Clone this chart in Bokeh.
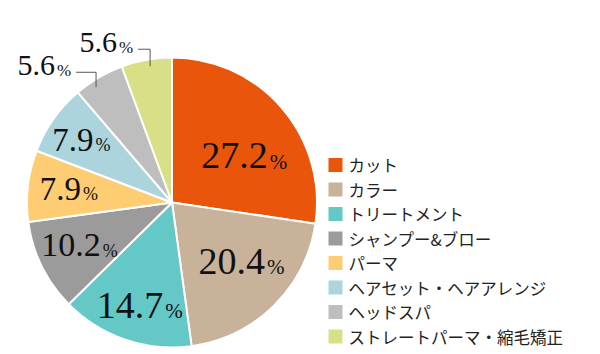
import math
from bokeh.plotting import figure
from bokeh.models import ColumnDataSource, Range1d
from bokeh.core.properties import value, field
from bokeh.embed import file_html
from bokeh.resources import INLINE

# ---- data ----
categories = ["カット", "カラー", "トリートメント", "シャンプー&ブロー", "パーマ",
              "ヘアセット・ヘアアレンジ", "ヘッドスパ", "ストレートパーマ・縮毛矯正"]
shares = [27.2, 20.4, 14.7, 10.2, 7.9, 7.9, 5.6, 5.6]
share_labels = ["27.2", "20.4", "14.7", "10.2", "7.9", "7.9", "5.6", "5.6"]
colors = ["#E9560B", "#C9B29A", "#64C8C7", "#9B9B9B", "#FECC72", "#ABD4DC", "#BEBEBE", "#D9DF86"]

# ---- layout / style ----
W, H = 600, 354
CX, CY, R = 171.5, H - 202, 145
num_sizes = [38, 38, 38, 34, 33, 33, 30, 30]
pct_sizes = [21, 21, 21, 18, 18, 18, 17, 17]
inside_r = [0.593, 0.628, 0.745, 0.703, 0.717, 0.759]
inside_da = [8.0, -5.0, -1.5, 1.3, 0.8, -0.6]
outside_da = [-3.0, 1.0]
outside_up = [15, 17]
outside_hl = [20, 12]

total = sum(shares)
wa0, wa1, mids = [], [], []
acc = 0.0
for s in shares:
    f0 = acc / total
    acc += s
    f1 = acc / total
    wa0.append(math.pi / 2 - 2 * math.pi * f1)
    wa1.append(math.pi / 2 - 2 * math.pi * f0)
    mids.append(360.0 * (f0 + f1) / 2)

p = figure(width=W, height=H, x_range=Range1d(0, W), y_range=Range1d(0, H),
           output_backend="svg", toolbar_location=None,
           x_axis_location=None, y_axis_location=None, min_border=0)
p.grid.visible = False
p.outline_line_color = None
p.background_fill_color = "white"
p.border_fill_color = "white"

src = ColumnDataSource(dict(x=[CX] * len(shares), y=[CY] * len(shares),
                            a0=wa0, a1=wa1, c=colors))
p.wedge(x="x", y="y", radius=R, start_angle="a0", end_angle="a1",
        fill_color="c", line_color="white", line_width=2, source=src)


def polar(theta_deg, r):
    t = math.radians(theta_deg)
    return CX + r * math.sin(t), CY + r * math.cos(t)


def num_width(s, F):
    return sum(0.25 if ch == "." else 0.5 for ch in s) * F


nx, ny, ntext, nfs = [], [], [], []
px, py, pfs = [], [], []
gap = 2
for i in range(6):
    lx, ly = polar(mids[i] + inside_da[i], inside_r[i] * R)
    F, Fp = num_sizes[i], pct_sizes[i]
    wn = num_width(share_labels[i], F)
    wp = 0.833 * Fp
    left = lx - (wn + gap + wp) / 2
    nx.append(left + wn); ny.append(ly); ntext.append(share_labels[i]); nfs.append(f"{F}px")
    px.append(left + wn + gap); py.append(ly - 0.33 * F + 0.33 * Fp); pfs.append(f"{Fp}px")

lead_xs, lead_ys = [], []
for k, i in enumerate([6, 7]):
    P = polar(mids[i] + outside_da[k], 138)
    Q = (P[0], P[1] + outside_up[k])
    S = (P[0] - outside_hl[k], Q[1])
    lead_xs.append([S[0], Q[0], P[0]])
    lead_ys.append([S[1], Q[1], P[1]])
    F, Fp = num_sizes[i], pct_sizes[i]
    wp = 0.833 * Fp
    right = S[0] - 5
    base = S[1] - 3.5
    cy = base + 0.33 * F
    nx.append(right - wp - gap); ny.append(cy); ntext.append(share_labels[i]); nfs.append(f"{F}px")
    px.append(right - wp); py.append(base + 0.33 * Fp); pfs.append(f"{Fp}px")

p.multi_line(xs=lead_xs, ys=lead_ys, line_color="#555555", line_width=1)

nsrc = ColumnDataSource(dict(x=nx, y=ny, t=ntext, fs=nfs))
p.text(x="x", y="y", text="t", source=nsrc, text_font=value("Liberation Serif"),
       text_font_size=field("fs"), text_align="right", text_baseline="middle",
       text_color="#111111")
psrc = ColumnDataSource(dict(x=px, y=py, t=["%"] * len(px), fs=pfs))
p.text(x="x", y="y", text="t", source=psrc, text_font=value("Liberation Serif"),
       text_font_size=field("fs"), text_align="left", text_baseline="middle",
       text_color="#111111")

# legend
LX0, LY0, LSTEP, LSQ = 335, H - 164.5, 24.5, 14
ly = [LY0 - i * LSTEP for i in range(len(categories))]
lsrc = ColumnDataSource(dict(x=[LX0] * len(categories), y=ly, c=colors,
                             tx=[LX0 + 13] * len(categories), t=categories))
p.rect(x="x", y="y", width=LSQ, height=LSQ, fill_color="c", line_color=None, source=lsrc)
p.text(x="tx", y="y", text="t", source=lsrc, text_font=value("Noto Sans CJK JP"),
       text_font_size="16.5px", text_align="left", text_baseline="middle",
       text_color="#222222")

open("out.html", "w").write(file_html(p, INLINE))
